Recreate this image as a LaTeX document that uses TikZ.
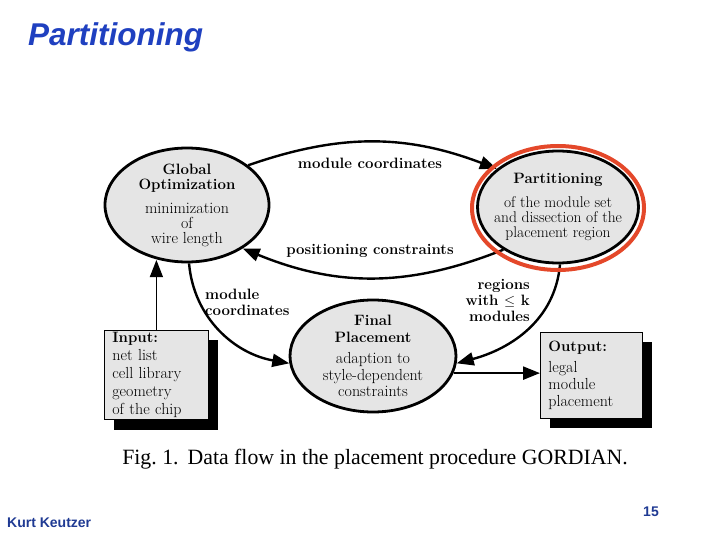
\documentclass[tikz,border=0pt]{standalone}
\usepackage{fontspec}
\newfontfamily\arialfont{Liberation Sans}
\newfontfamily\timesfont{Liberation Serif}
\usepackage{tikz}
\usetikzlibrary{arrows.meta,shapes.geometric,shadows}
\definecolor{titleblue}{HTML}{1F40C0}
\definecolor{footblue}{HTML}{1F3A93}
\definecolor{ringred}{HTML}{E4482A}
\definecolor{scanfill}{gray}{0.9}
\newcommand{\hd}[1]{{\fontsize{15bp}{15bp}\selectfont\bfseries #1}}

\begin{document}
\begin{tikzpicture}[x=1bp, y=-1bp,
  proc/.style={draw, ellipse, line width=2.8bp, fill=scanfill, align=center, inner sep=-12bp, font=\fontsize{16bp}{15bp}\selectfont},
  iobox/.style={draw, line width=0.8bp, fill=scanfill, anchor=north west, align=left, inner xsep=8bp, inner ysep=2bp, drop shadow={shadow xshift=10bp, shadow yshift=-10bp, fill=black, opacity=1}},
  lbl/.style={font=\fontsize{15bp}{16bp}\selectfont\bfseries, inner sep=1bp},
  arr/.style={-{Triangle[length=17bp, width=13bp]}, line width=2.4bp}
]
  \useasboundingbox (0,0) rectangle (720,540);

  \node[anchor=base west, inner sep=0pt, text=titleblue, font=\arialfont\bfseries\itshape\fontsize{31.5bp}{31.5bp}\selectfont] (title) at (28,46) {Partitioning};

  \node[proc, minimum width=164bp, minimum height=114bp] (glob) at (187,205) {\hd{Global}\\\hd{Optimization}\\[9bp]minimization\\of\\wire length};
  \node[proc, minimum width=161bp, minimum height=112bp, font=\fontsize{15.5bp}{15bp}\selectfont] (part) at (558,207) {\hd{Partitioning}\\[9bp]of the module set\\and dissection of the\\placement region};
  \node[proc, minimum width=166bp, minimum height=112bp, font=\fontsize{16bp}{16.5bp}\selectfont] (fin) at (373,356) {\hd{Final}\\\hd{Placement}\\[5bp]adaption to\\style-dependent\\constraints};

  \node[iobox, minimum width=104bp, minimum height=88bp, text width=88bp, font=\fontsize{16bp}{18bp}\selectfont] (inp) at (104,330) {\hd{Input:}\\net list\\cell library\\geometry\\of the chip};
  \node[iobox, minimum width=102bp, minimum height=86bp, text width=86bp, font=\fontsize{16bp}{17bp}\selectfont] (outp) at (540,332) {\hd{Output:}\\[4bp]legal\\module\\placement};

  \node[lbl] (lmodtop) at (370,163) {module coordinates};
  \node[lbl] (lpos) at (370,251) {positioning constraints};
  \node[lbl, align=left, anchor=west] (lmodleft) at (204,302) {module\\coordinates};
  \node[lbl, align=right, anchor=east] (lreg) at (531,300) {regions\\with $\le$ k\\modules};

  \draw[arr] (glob.33) to[bend left=20] (part.148);
  \draw[arr] (part.218) to[bend left=22] (glob.322);
  \draw[arr] (glob.272) to[out=-85, in=170] (fin.185);
  \draw[arr] (part.272) to[out=-95, in=15] (fin.355);
  \draw[arr] (fin.348) -- (fin.348 -| outp.west);
  \draw[arr, line width=1.2bp] (inp.north) -- (inp.north |- glob.243);

  \node[draw=ringred, line width=4bp, ellipse, minimum width=172bp, minimum height=124bp, inner sep=0pt] (ring) at (558,208) {};

  \node[font=\timesfont\fontsize{21.8bp}{21.8bp}\selectfont] (cap) at (375,459) {Fig.~1.\hspace{9bp}Data flow in the placement procedure GORDIAN.};

  \node[anchor=base west, inner sep=0pt, text=footblue, font=\arialfont\bfseries\fontsize{14bp}{14bp}\selectfont] (author) at (7,527) {Kurt Keutzer};
  \node[anchor=base east, inner sep=0pt, text=footblue, font=\arialfont\bfseries\fontsize{14bp}{14bp}\selectfont] (page) at (659,516) {15};
\end{tikzpicture}
\end{document}
